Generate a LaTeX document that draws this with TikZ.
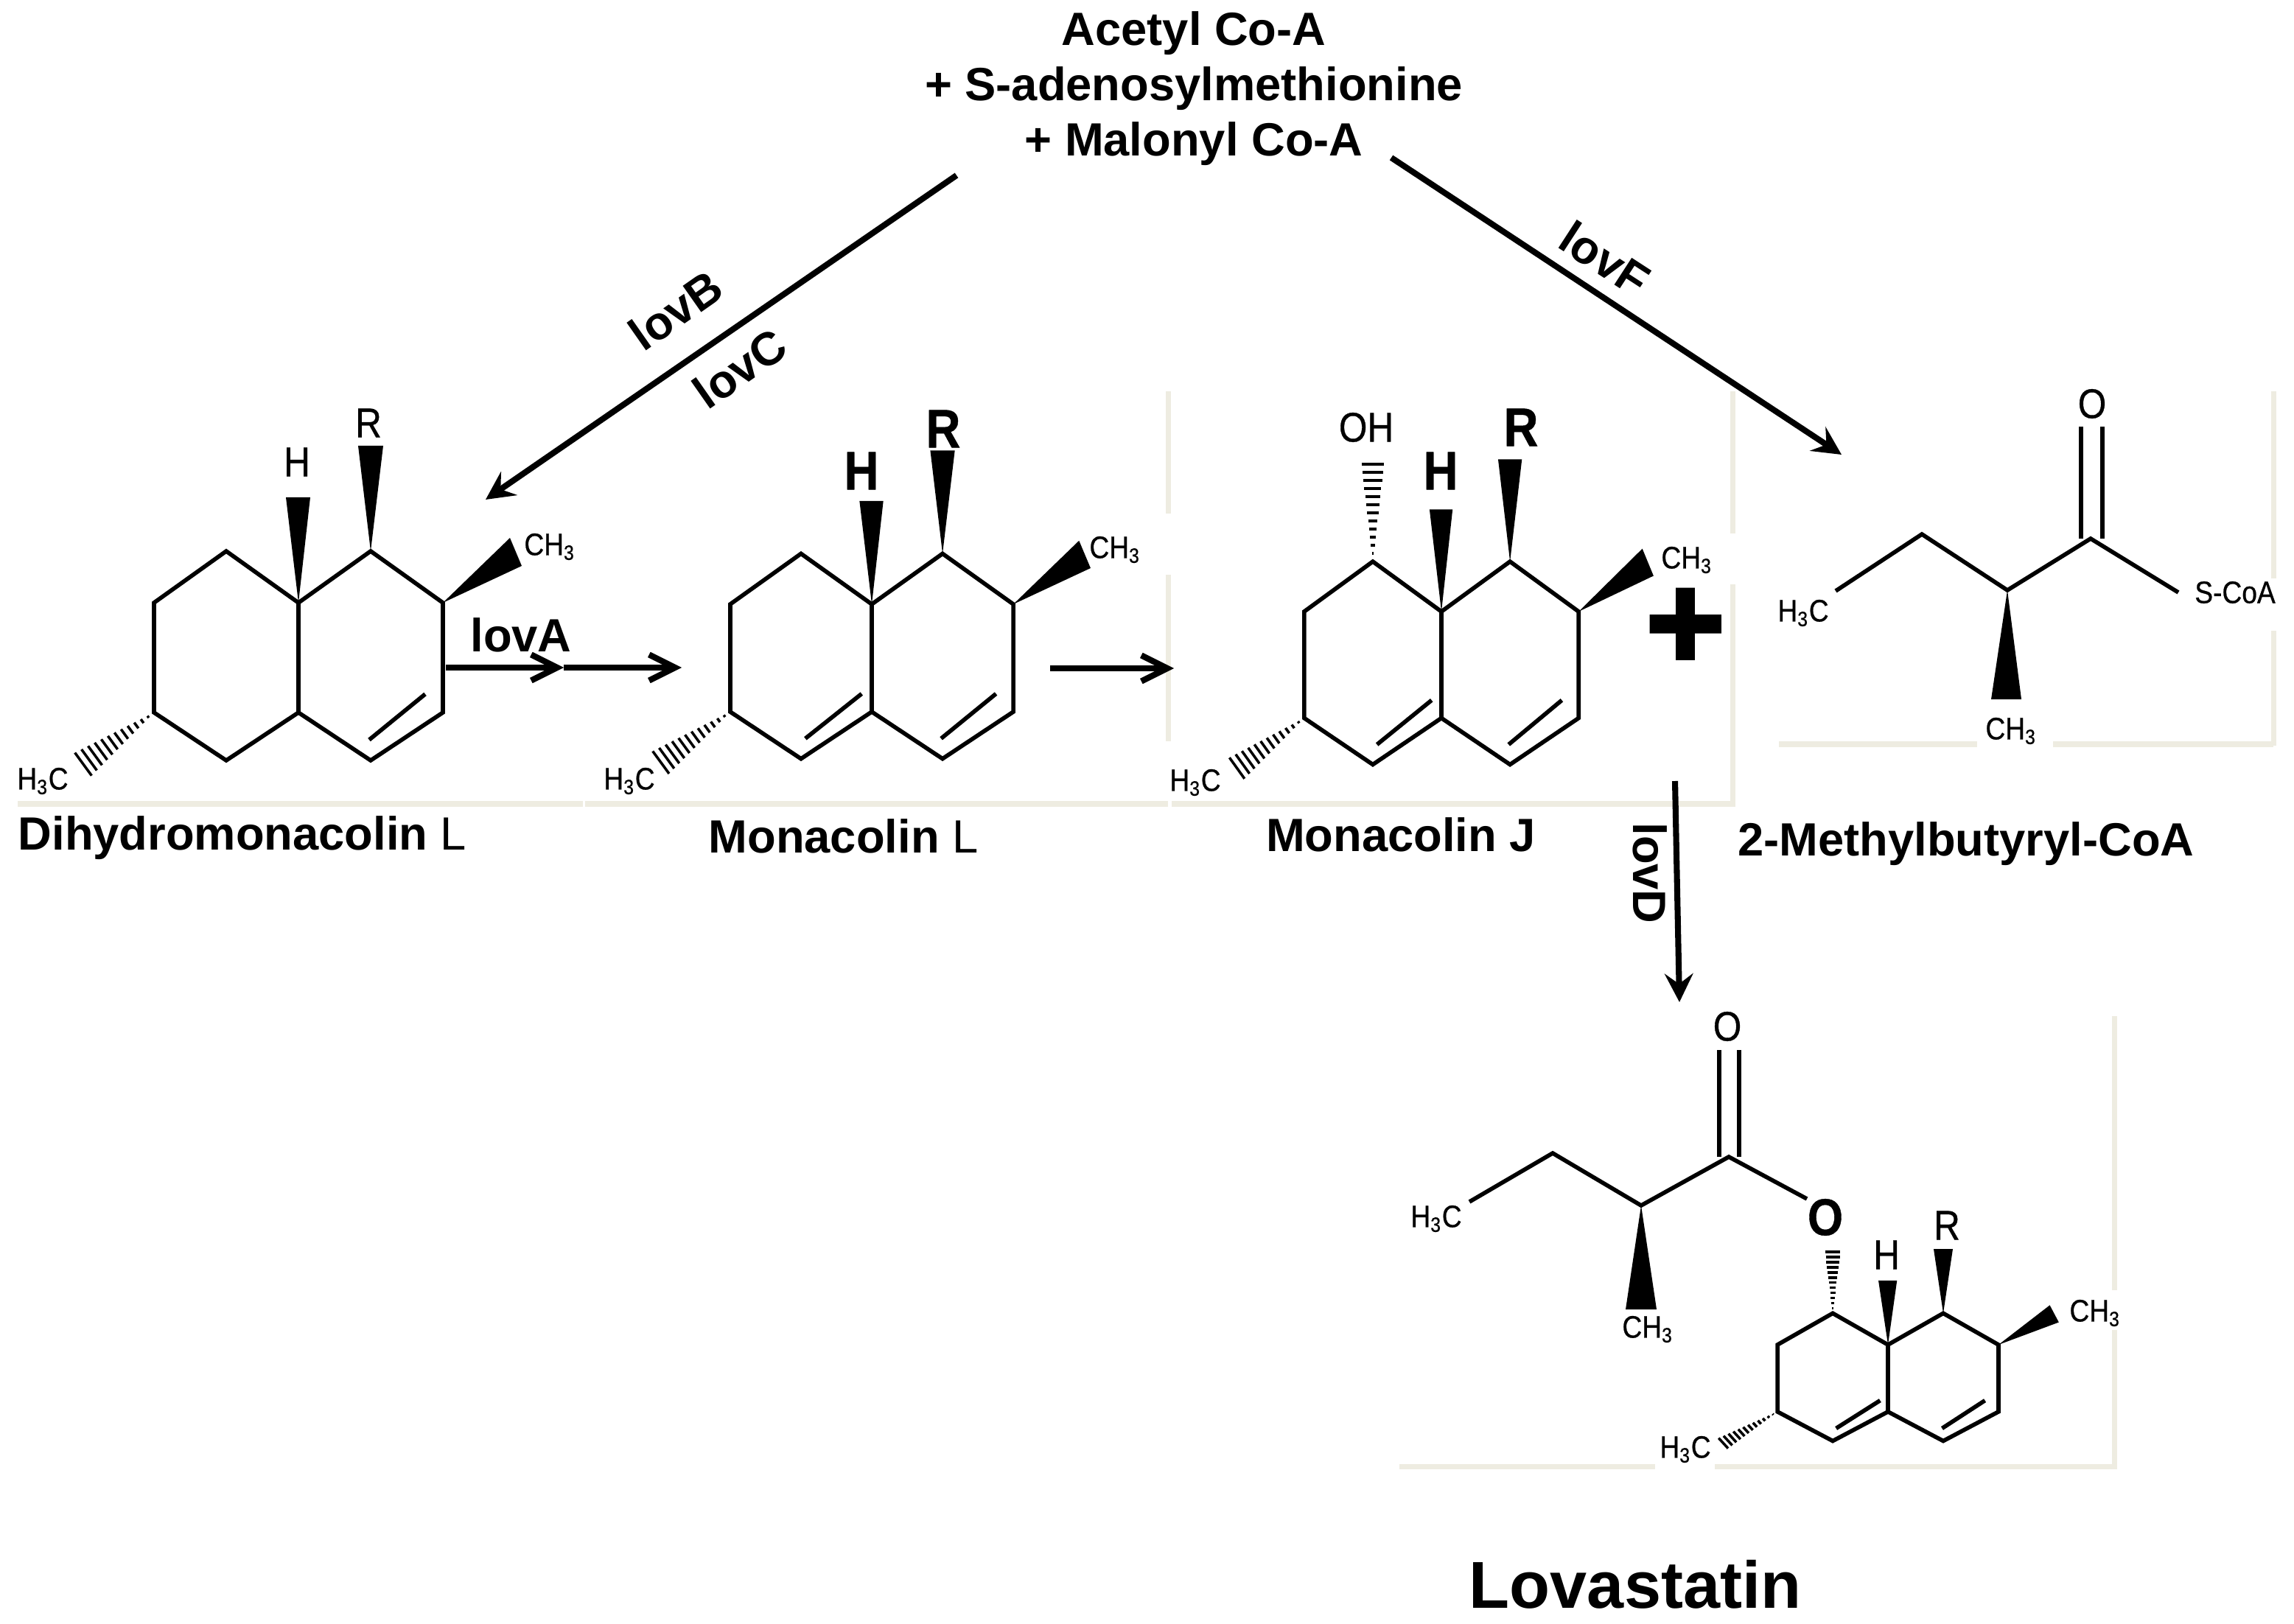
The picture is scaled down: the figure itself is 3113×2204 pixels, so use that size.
\documentclass[tikz,border=0pt]{standalone}
\usepackage{fontspec}
\setmainfont{Liberation Sans}
\newfontfamily\atomfont[FakeStretch=0.88,FakeBold=0.6]{Liberation Sans}
\newfontfamily\plusfont[FakeBold=3]{Liberation Sans Bold}
\usetikzlibrary{arrows.meta,calc}
\definecolor{framebeige}{HTML}{EEECE1}
\tikzset{
  bond/.style={draw=black,line width=1.6pt},
  wedge/.style={fill=black},
  hashline/.style={draw=black,line width=1pt},
  frameline/.style={draw=framebeige,line width=2pt},
  flow/.style={-{Stealth[length=11pt,width=11pt,inset=4pt]},draw=black,line width=2.3pt},
  flowbarb/.style={-{Straight Barb[length=10pt,width=10pt]},draw=black,line width=2.3pt},
  compound/.style={font=\fontsize{18}{21.3}\selectfont\bfseries,inner sep=0pt},
  atomlabel/.style={font=\fontsize{12}{14}\selectfont\atomfont,inner sep=0pt},
  atommid/.style={font=\fontsize{16}{18}\selectfont\atomfont,inner sep=0pt},
  atombig/.style={font=\fontsize{21}{23}\selectfont\atomfont\bfseries,inner sep=0pt}
}
\newcommand{\ringbonds}[1]{
  \coordinate (a) at (-196,149);
  \coordinate (b) at (-196,0);
  \coordinate (c) at (-98,-70);
  \coordinate (d) at (0,0);
  \coordinate (e) at (0,149);
  \coordinate (f) at (-98,214);
  \coordinate (g) at (98,-70);
  \coordinate (h) at (196,0);
  \coordinate (i) at (196,149);
  \coordinate (j) at (98,214);
  \draw[bond] (d) -- (c) -- (b) -- (a) -- (f) -- (e) -- (j) -- (i) -- (h) -- (g) -- (d) -- (e);
  \draw[bond] (172,124) -- (96,186);
  \fill[wedge] (d) -- (-17,-143) -- (16,-143) -- cycle;
  \fill[wedge] (g) -- (81,-213) -- (115,-213) -- cycle;
  \fill[wedge] (h) -- (287,-88) -- (303,-50) -- cycle;
  \coordinate (hashend) at (-296,222);
  \hashbond{a}{hashend}{#1}
}
\newcommand{\hashbond}[3]{
  \foreach \t in {0.08,0.16,...,0.97}
    \draw[hashline] ($(#1)!\t!(#2)!\t*#3!90:(#2)$) -- ($(#1)!\t!(#2)!\t*#3!-90:(#2)$);
}
\begin{document}
\begin{tikzpicture}[x=0.01cm,y=-0.01cm]
  \useasboundingbox (0,0) rectangle (3113,2204);
  % leftover frame lines
  \foreach \xa/\ya/\xb/\yb in {24/1091/791/1091,794/1091/1585/1091,1590/1091/2355/1091,
      1585/531/1585/697,1585/780/1585/1006,2351/531/2351/724,2351/793/2351/1093,
      3085/531/3085/785,3085/856/3085/1012,2414/1010/2683/1010,2786/1010/3085/1010,
      2869/1379/2869/1751,2869/1805/2869/1990,1899/1990/2246/1990,2327/1990/2873/1990}
    \draw[frameline] (\xa,\ya) -- (\xb,\yb);

  % ring systems
  \begin{scope}[shift={(405,818)}]
    \ringbonds{5.7pt}
  \end{scope}
  \begin{scope}[shift={(1183,820)},xscale=0.98,yscale=0.98]
    \ringbonds{5.7pt}
    \draw[bond] (-14,124) -- (-92,186);
  \end{scope}
  \begin{scope}[shift={(1956,830)},xscale=0.95,yscale=0.97]
    \ringbonds{5.4pt}
    \draw[bond] (-14,124) -- (-92,186);
    \coordinate (ohend) at (-98,-212);
    \hashbond{c}{ohend}{4.8pt}
  \end{scope}
  \begin{scope}[shift={(2562,1825)},xscale=0.765,yscale=0.61]
    \ringbonds{4.2pt}
    \draw[bond] (-14,124) -- (-92,186);
    \coordinate (ohend) at (-98,-212);
    \hashbond{c}{ohend}{4pt}
  \end{scope}

  % butyryl chains
  \coordinate (sctop) at (2608,725);
  \coordinate (scmid) at (2724,801);
  \coordinate (sccarbonyl) at (2837,731);
  \draw[bond] (2491,802) -- (sctop) -- (scmid) -- (sccarbonyl) -- (2956,804);
  \draw[bond] (2824,731) -- (2824,579);
  \draw[bond] (2853,731) -- (2853,579);
  \fill[wedge] (scmid) -- (2702,949) -- (2743,949) -- cycle;

  \coordinate (lvtop) at (2107,1565);
  \coordinate (lvmid) at (2227,1636);
  \coordinate (lvcarbonyl) at (2346,1570);
  \draw[bond] (1994,1631) -- (lvtop) -- (lvmid) -- (lvcarbonyl) -- (2452,1627);
  \draw[bond] (2333,1570) -- (2333,1425);
  \draw[bond] (2360,1570) -- (2360,1425);
  \fill[wedge] (lvmid) -- (2206,1777) -- (2248,1777) -- cycle;

  % names
  \node[compound,align=center] (precursors) at (1620,120)
    {Acetyl Co-A\\+ S-adenosylmethionine\\+ Malonyl Co-A};
  \node[compound,anchor=west] (dihydro) at (24,1137) {Dihydromonacolin {\mdseries L}};
  \node[compound,anchor=west] (monal) at (961,1135) {Monacolin {\mdseries L}};
  \node[compound] (monaj) at (1901,1133) {Monacolin J};
  \node[compound] (methyl) at (2668,1145) {2-Methylbutyryl-CoA};
  \node[compound,font=\fontsize{25.6}{28}\selectfont\bfseries] (lova) at (2219,2150) {Lovastatin};
  \node[compound,rotate=35] (lovB) at (917,421) {lovB};
  \node[compound,rotate=35] (lovC) at (1004,500) {lovC};
  \node[compound,rotate=-33] (lovF) at (2178,351) {lovF};
  \node[compound] (lovA) at (707,862) {lovA};
  \node[compound,rotate=-90] (lovD) at (2239,1185) {lovD};
  \node[inner sep=0pt,font=\fontsize{52}{54}\selectfont\plusfont] (plus) at (2287,854) {+};

  % atoms
  \node[atommid] (r1) at (500,574) {R};
  \node[atommid] (h1) at (403,627) {H};
  \node[atomlabel] (me1) at (746,742) {CH\textsubscript{3}};
  \node[atomlabel] (mf1) at (58,1060) {H\textsubscript{3}C};
  \node[atombig] (r2) at (1280,582) {R};
  \node[atombig] (h2) at (1169,639) {H};
  \node[atomlabel] (me2) at (1513,746) {CH\textsubscript{3}};
  \node[atomlabel] (mf2) at (854,1060) {H\textsubscript{3}C};
  \node[atommid] (oh3) at (1854,580) {OH};
  \node[atombig] (h3) at (1955,639) {H};
  \node[atombig] (r3) at (2064,580) {R};
  \node[atomlabel] (me3) at (2289,760) {CH\textsubscript{3}};
  \node[atomlabel] (mf3) at (1622,1062) {H\textsubscript{3}C};
  \node[atommid] (osc) at (2839,548) {O};
  \node[atomlabel] (mfsc) at (2447,832) {H\textsubscript{3}C};
  \node[atomlabel] (coa) at (3033,804) {S-CoA};
  \node[atomlabel] (mesc) at (2729,992) {CH\textsubscript{3}};
  \node[atommid] (olv) at (2344,1393) {O};
  \node[atommid,font=\fontsize{20}{22}\selectfont\atomfont\bfseries] (olink) at (2477,1652) {O};
  \node[atomlabel] (mflv) at (1949,1654) {H\textsubscript{3}C};
  \node[atomlabel] (melv) at (2236,1804) {CH\textsubscript{3}};
  \node[atommid] (rlv) at (2642,1663) {R};
  \node[atommid] (hlv) at (2560,1703) {H};
  \node[atomlabel] (mgl) at (2843,1782) {CH\textsubscript{3}};
  \node[atomlabel] (mhl) at (2287,1967) {H\textsubscript{3}C};

  % pathway arrows
  \coordinate (startB) at (1298,238);
  \coordinate (endB) at (659,678);
  \coordinate (startF) at (1888,214);
  \coordinate (endF) at (2499,617);
  \coordinate (startA) at (605,906);
  \coordinate (midA) at (765,906);
  \coordinate (endA) at (925,906);
  \coordinate (startJ) at (1425,907);
  \coordinate (endJ) at (1593,907);
  \coordinate (startD) at (2273,1060);
  \coordinate (endD) at (2279,1360);
  \draw[flow] (startB) -- (endB);
  \draw[flow] (startF) -- (endF);
  \draw[flow] (startD) -- (endD);
  \draw[flowbarb] (startA) -- (midA);
  \draw[flowbarb] (midA) -- (endA);
  \draw[flowbarb] (startJ) -- (endJ);
\end{tikzpicture}
\end{document}
